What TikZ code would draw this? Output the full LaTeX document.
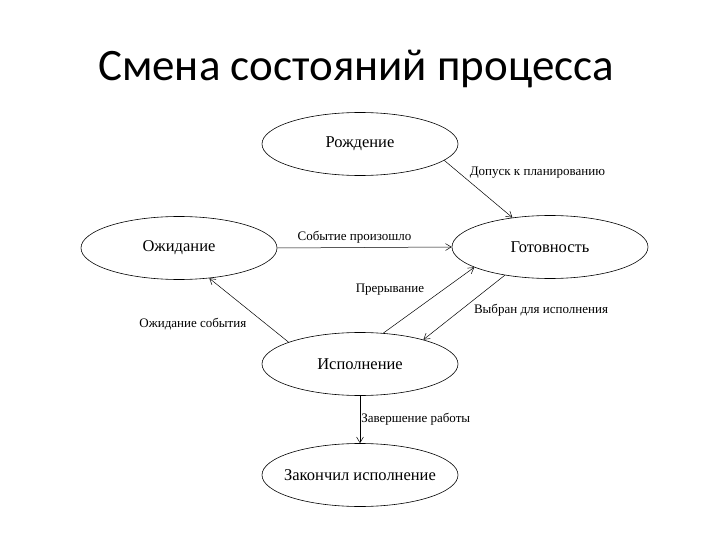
\documentclass[tikz,border=0pt]{standalone}
\usepackage{fontspec}
\setmainfont{Liberation Serif}
\newfontfamily\titlefont{Carlito}
\usetikzlibrary{arrows.meta,shapes.geometric}

\begin{document}
\begin{tikzpicture}[x=1pt, y=-1pt,
      state/.style={ellipse, draw=black, line width=0.6pt, minimum width=196pt, minimum height=63pt, inner sep=0pt, font=\fontsize{16.5}{19}\selectfont},
      lbl/.style={inner sep=1pt, font=\fontsize{13}{15}\selectfont},
      arr/.style={-{Straight Barb[length=2mm, width=2.4mm]}, line width=0.5pt, color=black}
    ]
      \useasboundingbox (0,0) rectangle (720,540);

      % Title
      \node[font=\titlefont\fontsize{45}{54}\selectfont, anchor=base] (title) at (356,81) {Смена состояний процесса};

      % States
      \node[state] (birth) at (360,144) {Рождение};
      \node[state] (wait) at (179,248) {Ожидание};
      \node[state] (ready) at (550,247) {Готовность};
      \node[state] (run) at (360,364) {Исполнение};
      \node[state] (done) at (360,475) {\makebox[0pt]{Закончил исполнение}};

      % Transitions
      \draw[arr] (birth.-11) -- (ready.142) node[lbl, pos=0.21, right=10pt]{Допуск к планированию};
      \draw[arr] (wait.east) -- (ready.west) node[lbl, midway, above=3pt, xshift=-10pt]{Событие произошло};
      \draw[arr] (run.163) -- (wait.-45) node[lbl, pos=0.29, left=18pt]{Ожидание события};
      \draw[arr] (run.53) -- (ready.195) node[lbl, pos=0.66, left=18pt]{Прерывание};
      \draw[arr] (ready.212) -- (run.21) node[lbl, pos=0.54, right=12pt]{Выбран для исполнения};
      \draw[arr] (run.south) -- (done.north) node[lbl, midway, right=0pt]{Завершение работы};
    \end{tikzpicture}
\end{document}
